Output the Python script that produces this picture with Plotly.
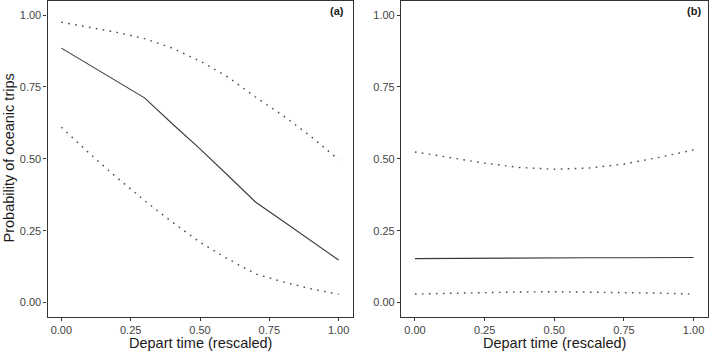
import plotly.graph_objects as go

# Panel (a)
a_x = [0.0, 0.1, 0.2, 0.3, 0.4, 0.5, 0.6, 0.7, 0.8, 0.9, 1.0]
a_fit = [0.885, 0.827, 0.769, 0.712, 0.622, 0.535, 0.443, 0.35, 0.283, 0.215, 0.148]
a_upper = [0.975, 0.958, 0.94, 0.918, 0.885, 0.84, 0.785, 0.715, 0.65, 0.578, 0.497]
a_lower = [0.61, 0.52, 0.435, 0.355, 0.28, 0.21, 0.152, 0.10, 0.072, 0.048, 0.029]

# Panel (b)
b_x = [0.0, 0.125, 0.25, 0.375, 0.5, 0.625, 0.75, 0.875, 1.0]
b_fit = [0.153, 0.154, 0.154, 0.155, 0.155, 0.156, 0.156, 0.157, 0.157]
b_upper = [0.524, 0.505, 0.485, 0.47, 0.464, 0.468, 0.482, 0.505, 0.531]
b_lower = [0.030, 0.033, 0.036, 0.037, 0.038, 0.037, 0.036, 0.033, 0.030]

x_ticks = [0, 0.25, 0.5, 0.75, 1.0]
x_ticklabels = ["0.00", "0.25", "0.50", "0.75", "1.00"]
y_ticks = [0, 0.25, 0.5, 0.75, 1.0]
y_ticklabels = ["0.00", "0.25", "0.50", "0.75", "1.00"]

FONT = "Liberation Sans, Arial, sans-serif"
LINE_COL = "#3a3a3a"
DOT_COL = "#4a4a4a"
DOT = "1.6px,5.4px"

fig = go.Figure()

def add_panel(xs, fit, up, lo, xa, ya):
    for ys, dash, col in [(up, DOT, DOT_COL), (lo, DOT, DOT_COL), (fit, "solid", LINE_COL)]:
        fig.add_trace(go.Scatter(x=xs, y=ys, mode="lines", xaxis=xa, yaxis=ya,
                                 line=dict(color=col, width=1.1 if dash == "solid" else 1.4, dash=dash),
                                 showlegend=False, hoverinfo="skip"))

add_panel(a_x, a_fit, a_upper, a_lower, "x", "y")
add_panel(b_x, b_fit, b_upper, b_lower, "x2", "y2")

W, H = 709, 351
ydom = [1 - 317 / H, 1 - 0.7 / H]
axis_common = dict(showgrid=False, zeroline=False, showline=True, mirror=True,
                   linecolor="#333333", linewidth=1.2, ticks="outside", ticklen=3,
                   tickcolor="#333333", tickwidth=1,
                   tickfont=dict(family=FONT, size=11, color="#444444"))

fig.update_layout(
    width=W, height=H,
    margin=dict(l=0, r=0, t=0, b=0),
    paper_bgcolor="white", plot_bgcolor="white",
    xaxis=dict(domain=[47.5 / W, 352.5 / W], range=[-0.05, 1.05], anchor="y",
               tickvals=x_ticks, ticktext=x_ticklabels, **axis_common),
    yaxis=dict(domain=ydom, range=[-0.05, 1.05], anchor="x",
               tickvals=y_ticks, ticktext=y_ticklabels, **axis_common),
    xaxis2=dict(domain=[401 / W, 707.5 / W], range=[-0.05, 1.05], anchor="y2",
                tickvals=x_ticks, ticktext=x_ticklabels, **axis_common),
    yaxis2=dict(domain=ydom, range=[-0.05, 1.05], anchor="x2",
                tickvals=y_ticks, ticktext=y_ticklabels, **axis_common),
)

title_font = dict(family=FONT, size=14.5, color="#1a1a1a")
fig.add_annotation(text="Depart time (rescaled)", xref="paper", yref="paper",
                   x=200 / W, y=1 - 343 / H, showarrow=False, font=title_font,
                   xanchor="center", yanchor="middle")
fig.add_annotation(text="Depart time (rescaled)", xref="paper", yref="paper",
                   x=554 / W, y=1 - 343 / H, showarrow=False, font=title_font,
                   xanchor="center", yanchor="middle")
fig.add_annotation(text="Probability of oceanic trips", xref="paper", yref="paper",
                   x=8.5 / W, y=1 - 158 / H, showarrow=False, font=title_font,
                   textangle=-90, xanchor="center", yanchor="middle")
fig.add_annotation(text="<b>(a)</b>", xref="paper", yref="paper",
                   x=345.5 / W, y=1 - 11.5 / H, showarrow=False,
                   font=dict(family=FONT, size=11, color="#1a1a1a"),
                   xanchor="right", yanchor="middle")
fig.add_annotation(text="<b>(b)</b>", xref="paper", yref="paper",
                   x=703 / W, y=1 - 11.5 / H, showarrow=False,
                   font=dict(family=FONT, size=11, color="#1a1a1a"),
                   xanchor="right", yanchor="middle")

fig.write_html(
    "out.html",
    config={"displayModeBar": False},
    post_script="document.body.style.margin='0';document.body.style.overflow='hidden';",
)
